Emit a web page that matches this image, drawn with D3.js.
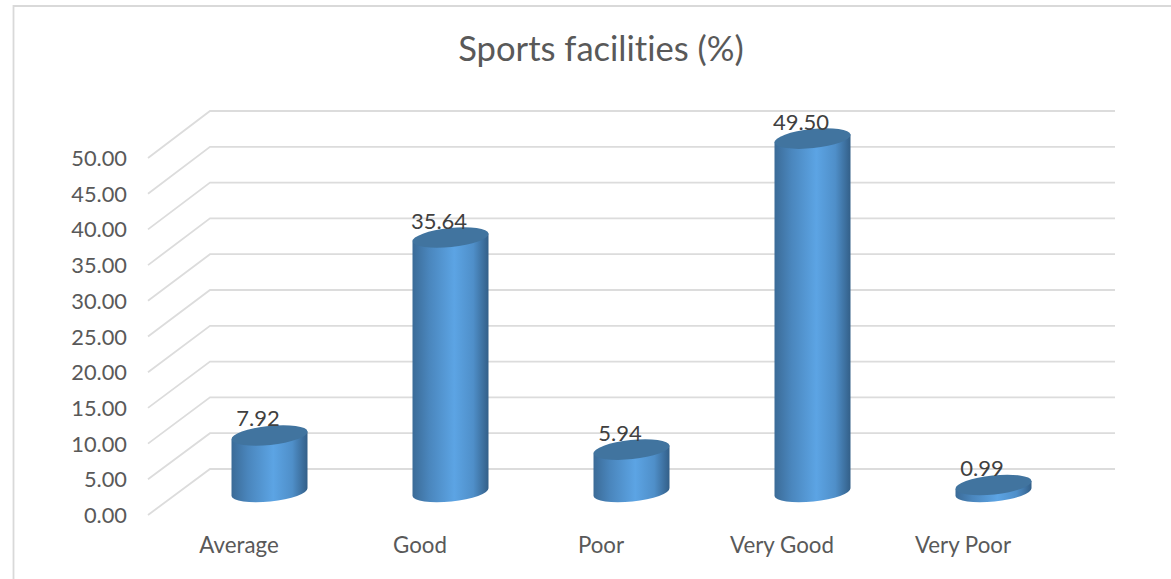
<!DOCTYPE html>
<html><head><meta charset="utf-8">
<script src="https://cdn.jsdelivr.net/npm/d3@7"></script>
<style>html,body{margin:0;padding:0;background:#fff}svg{display:block}text{font-family:Lato,"Open Sans",sans-serif;font-variant-ligatures:none}</style>
</head><body><svg id="c" width="1171" height="579"></svg>
<script>
const categories=["Average","Good","Poor","Very Good","Very Poor"];
const values=[7.92,35.64,5.94,49.50,0.99];
const valueLabels=["7.92","35.64","5.94","49.50","0.99"];
const ticks=[0,5,10,15,20,25,30,35,40,45,50];
const title="Sports facilities (%)";

const svg=d3.select("#c");
const defs=svg.append("defs");
const g=defs.append("linearGradient").attr("id","side");
[[0,"#3b6b97"],[.22,"#4a86bd"],[.55,"#5ca4e4"],[.8,"#4f8fc9"],[1,"#335f88"]].forEach(s=>g.append("stop").attr("offset",s[0]).attr("stop-color",s[1]));

svg.append("path").attr("d","M13.5 579V6H1171").attr("fill","none").attr("stroke","#d9d9d9").attr("stroke-width",1.8);
svg.append("text").attr("x",601).attr("y",61).attr("text-anchor","middle").attr("font-size",34.6).attr("fill","#595959").text(title);

const yFront=d3.scaleLinear().domain([0,50]).range([515,158]);
const yBack=d3.scaleLinear().domain([0,50]).range([469,111]);
const yBar=d3.scaleLinear().domain([0,50]).range([492,135]);
const xBand=d3.scaleBand().domain(categories).range([179.5,1084.5]);
const cx=c=>xBand(c)+xBand.bandwidth()/2;
const xBackL=210,xFrontL=148,xRight=1115;

const grid=svg.append("g").attr("fill","none").attr("stroke","#dcdcdc").attr("stroke-width",1.8);
ticks.forEach(t=>grid.append("path").attr("d",d3.line()([[xFrontL,yFront(t)],[xBackL,yBack(t)],[xRight,yBack(t)]])));

const axisY=svg.append("g").attr("fill","#595959").attr("font-size",21.8).attr("text-anchor","end");
ticks.forEach(t=>axisY.append("text").attr("x",127).attr("y",yFront(t)+8).text(d3.format(".2f")(t)));

const axisX=svg.append("g").attr("fill","#595959").attr("font-size",22.3).attr("text-anchor","middle");
categories.forEach(c=>axisX.append("text").attr("x",cx(c)-31).attr("y",553).text(c));

const rx=38,ry=9.5,rot=-6,dy=4;
const bars=svg.append("g");
categories.forEach((c,i)=>{
  const x=cx(c)-0.5,yt=yBar(values[i]),yb=yBar(0);
  const lx=x-rx,rxx=x+rx;
  bars.append("path").attr("fill","url(#side)")
    .attr("d",`M${lx} ${yt+dy}L${lx} ${yb+dy}A${rx} ${ry} ${rot} 0 0 ${rxx} ${yb-dy}L${rxx} ${yt-dy}Z`);
  bars.append("path").attr("fill","#41749f")
    .attr("d",`M${lx} ${yt+dy}A${rx} ${ry} ${rot} 1 1 ${rxx} ${yt-dy}A${rx} ${ry} ${rot} 1 1 ${lx} ${yt+dy}Z`);
});
const labels=svg.append("g").attr("fill","#404040").attr("font-size",22).attr("text-anchor","middle");
categories.forEach((c,i)=>labels.append("text").attr("x",cx(c)-12).attr("y",yBar(values[i])-9).text(valueLabels[i]));
</script></body></html>
